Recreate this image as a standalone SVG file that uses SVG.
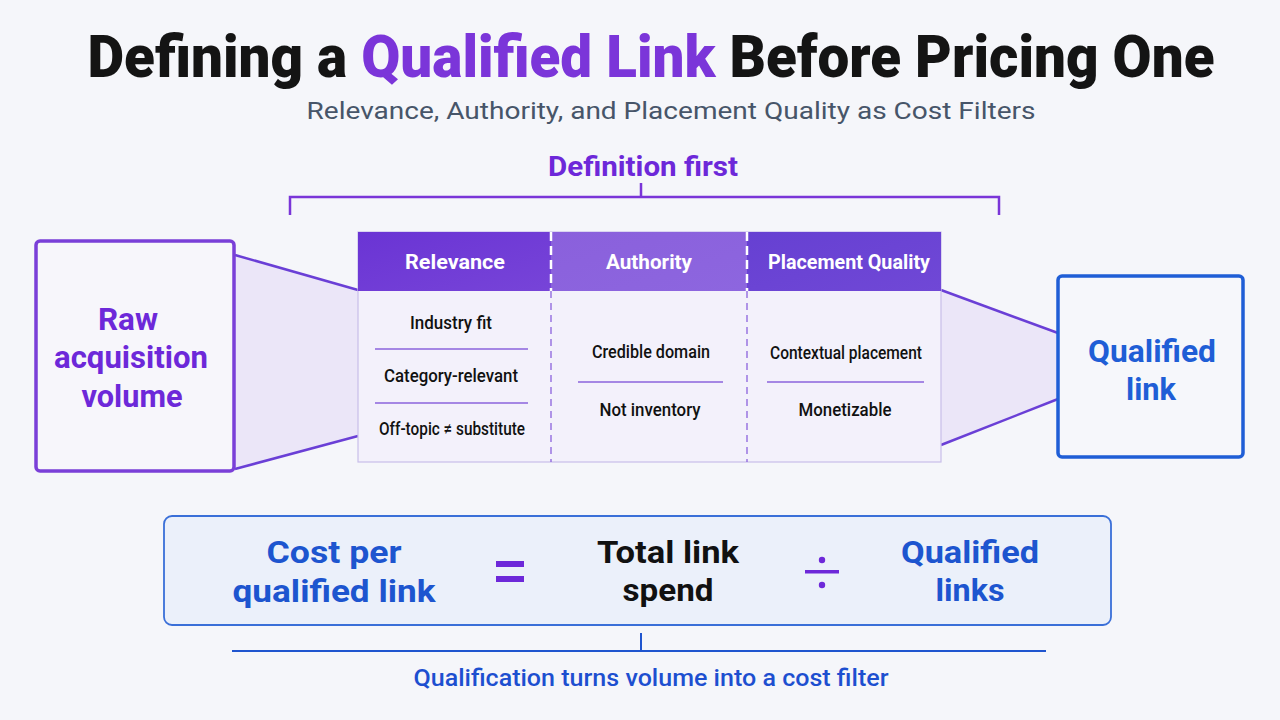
<svg xmlns="http://www.w3.org/2000/svg" width="1280" height="720" viewBox="0 0 1280 720">
<style>
text{font-family:Roboto,"Liberation Sans",Arial,sans-serif;text-anchor:middle}
.b{font-weight:700}
.purple{fill:#6d28d9}
.blue{fill:#1d55cf}
.hdr{fill:#ffffff;font-size:21px;font-weight:700}
.cell{fill:#111111;font-size:18.5px;font-weight:500}
.sep{stroke:#8b63dc;stroke-width:1.3}
.funnel{fill:#ebe6f8;stroke:none}
.fline{stroke:#6a3fd6;stroke-width:2.5;fill:none}
</style>
<defs>
<linearGradient id="g1" x1="0" y1="0" x2="1" y2="1"><stop offset="0" stop-color="#6a34d4"/><stop offset="1" stop-color="#7744d8"/></linearGradient>
<linearGradient id="g2" x1="0" y1="0" x2="1" y2="1"><stop offset="0" stop-color="#8a60dc"/><stop offset="1" stop-color="#8d66df"/></linearGradient>
<linearGradient id="g3" x1="0" y1="0" x2="1" y2="1"><stop offset="0" stop-color="#6640d2"/><stop offset="1" stop-color="#7048d6"/></linearGradient>
</defs>
<rect width="1280" height="720" fill="#f5f6fa"/>

<g id="title">
<text x="651" y="77" font-size="60" font-weight="900" fill="#141414" textLength="1127" lengthAdjust="spacingAndGlyphs">Defining a <tspan fill="#7b35d9">Qualified Link</tspan> Before Pricing One</text>
<text x="671" y="119" font-size="24" fill="#475569" textLength="729" lengthAdjust="spacingAndGlyphs">Relevance, Authority, and Placement Quality as Cost Filters</text>
</g>

<g id="definition-first">
<text x="643" y="176" font-size="27" class="b purple" textLength="190" lengthAdjust="spacingAndGlyphs">Definition first</text>
<path d="M290 215 V197 H999 V215 M641 197 V183" fill="none" stroke="#7a35d8" stroke-width="2.5"/>
</g>

<g id="connectors">
<polygon class="funnel" points="235,255 358,290 358,437 235,469"/>
<line class="fline" x1="235" y1="255" x2="358" y2="290"/>
<line class="fline" x1="235" y1="469" x2="358" y2="436"/>
<polygon class="funnel" points="941,290 1058,333 1058,399 941,445"/>
<line class="fline" x1="941" y1="290" x2="1058" y2="333"/>
<line class="fline" x1="941" y1="445" x2="1058" y2="399"/>
</g>

<g id="raw-volume">
<rect x="36" y="241" width="198" height="230" rx="4" fill="#f7f6fb" stroke="#7a3fd8" stroke-width="3.5"/>
<text x="128" y="330" font-size="32" class="b purple" textLength="60" lengthAdjust="spacingAndGlyphs">Raw</text>
<text x="131" y="368" font-size="32" class="b purple" textLength="154" lengthAdjust="spacingAndGlyphs">acquisition</text>
<text x="132" y="407" font-size="32" class="b purple" textLength="101" lengthAdjust="spacingAndGlyphs">volume</text>
</g>

<g id="criteria-table">
<rect x="358" y="232" width="583" height="230" fill="#f3f1fb" stroke="#c9bfe9" stroke-width="1.2"/>
<rect x="358" y="232" width="193" height="59" fill="url(#g1)"/>
<rect x="551" y="232" width="196" height="59" fill="url(#g2)"/>
<rect x="747" y="232" width="194" height="59" fill="url(#g3)"/>
<line x1="551" y1="232" x2="551" y2="291" stroke="#ffffff" stroke-width="2.5" stroke-dasharray="9 5"/>
<line x1="747" y1="232" x2="747" y2="291" stroke="#ffffff" stroke-width="2.5" stroke-dasharray="9 5"/>
<line x1="551" y1="291" x2="551" y2="462" stroke="#8b63dc" stroke-width="1.3" stroke-dasharray="7 5"/>
<line x1="747" y1="291" x2="747" y2="462" stroke="#8b63dc" stroke-width="1.3" stroke-dasharray="7 5"/>
<text class="hdr" x="455" y="269" textLength="100" lengthAdjust="spacingAndGlyphs">Relevance</text>
<text class="hdr" x="649" y="269" textLength="86" lengthAdjust="spacingAndGlyphs">Authority</text>
<text class="hdr" x="849" y="269" textLength="162" lengthAdjust="spacingAndGlyphs">Placement Quality</text>
<text class="cell" x="451" y="329" textLength="82" lengthAdjust="spacingAndGlyphs">Industry fit</text>
<line class="sep" x1="375" y1="349" x2="528" y2="349"/>
<text class="cell" x="451" y="382" textLength="134" lengthAdjust="spacingAndGlyphs">Category-relevant</text>
<line class="sep" x1="375" y1="403" x2="528" y2="403"/>
<text class="cell" x="452" y="435" textLength="146" lengthAdjust="spacingAndGlyphs">Off-topic ≠ substitute</text>
<text class="cell" x="651" y="358" textLength="118" lengthAdjust="spacingAndGlyphs">Credible domain</text>
<line class="sep" x1="578" y1="382" x2="723" y2="382"/>
<text class="cell" x="650" y="416" textLength="101" lengthAdjust="spacingAndGlyphs">Not inventory</text>
<text class="cell" x="846" y="359" textLength="152" lengthAdjust="spacingAndGlyphs">Contextual placement</text>
<line class="sep" x1="767" y1="382" x2="924" y2="382"/>
<text class="cell" x="845" y="416" textLength="93" lengthAdjust="spacingAndGlyphs">Monetizable</text>
</g>

<g id="qualified-link">
<rect x="1058" y="276" width="185" height="181" rx="4" fill="#f6f7fb" stroke="#1f5ed6" stroke-width="3.5"/>
<text x="1152" y="362" font-size="32" class="b" fill="#1f5ed6" textLength="128" lengthAdjust="spacingAndGlyphs">Qualified</text>
<text x="1151" y="400" font-size="32" class="b" fill="#1f5ed6" textLength="50" lengthAdjust="spacingAndGlyphs">link</text>
</g>

<g id="formula">
<rect x="164" y="516" width="947" height="109" rx="8" fill="#ebf0fa" stroke="#3a6fd8" stroke-width="1.8"/>
<text x="334" y="563" font-size="32" class="b blue" textLength="135" lengthAdjust="spacingAndGlyphs">Cost per</text>
<text x="334" y="602" font-size="32" class="b blue" textLength="203" lengthAdjust="spacingAndGlyphs">qualified link</text>
<rect x="496" y="561" width="28" height="6" fill="#6d28d9"/>
<rect x="496" y="576" width="28" height="6" fill="#6d28d9"/>
<text x="668" y="563" font-size="32" class="b" fill="#111111" textLength="142" lengthAdjust="spacingAndGlyphs">Total link</text>
<text x="668" y="601" font-size="32" class="b" fill="#111111" textLength="91" lengthAdjust="spacingAndGlyphs">spend</text>
<rect x="805" y="570" width="34" height="3.5" fill="#6d28d9"/>
<circle cx="822" cy="560" r="3.2" fill="#6d28d9"/>
<circle cx="822" cy="585" r="3.2" fill="#6d28d9"/>
<text x="970" y="563" font-size="32" class="b blue" textLength="138" lengthAdjust="spacingAndGlyphs">Qualified</text>
<text x="970" y="601" font-size="32" class="b blue" textLength="69" lengthAdjust="spacingAndGlyphs">links</text>
</g>

<g id="takeaway">
<path d="M641 633 V651 M232 651 H1046" fill="none" stroke="#1f55cf" stroke-width="2"/>
<text x="651" y="686" font-size="24" font-weight="500" fill="#1d4fd0" textLength="475" lengthAdjust="spacingAndGlyphs">Qualification turns volume into a cost filter</text>
</g>
</svg>
